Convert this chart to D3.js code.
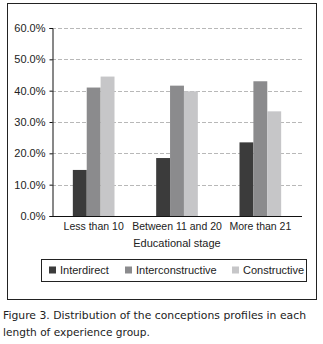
<!DOCTYPE html>
<html>
<head>
<meta charset="utf-8">
<script src="https://cdn.jsdelivr.net/npm/d3@7"></script>
<style>
  body { margin: 0; background: #fff; }
  svg { display: block; }
</style>
</head>
<body>
<svg id="chart" width="323" height="344"></svg>
<script>
// values (percent)
const categories = ["Less than 10", "Between 11 and 20", "More than 21"]
const seriesNames = ["Interdirect", "Interconstructive", "Constructive"]
const interdirect = [14.7, 18.5, 23.5]
const interconstructive = [41.0, 41.6, 43.0]
const constructive = [44.5, 39.8, 33.4]
const yTicks = [0, 10, 20, 30, 40, 50, 60]
const colors = ["#3b3b3b", "#8b8b8d", "#c6c6c8"]

const series = [interdirect, interconstructive, constructive]

const svg = d3.select("#chart")
const font = "'Liberation Sans', Arial, sans-serif"

// outer frame
svg.append("rect")
    .attr("x", 7.5).attr("y", 3.5)
    .attr("width", 309).attr("height", 296)
    .attr("fill", "none").attr("stroke", "#222").attr("stroke-width", 1)

const plot = {left: 52, right: 302, top: 28, bottom: 216}

const y = d3.scaleLinear().domain([0, 60]).range([plot.bottom, plot.top])
const x0 = d3.scaleBand().domain(categories).range([plot.left, plot.right]).paddingInner(0.5).paddingOuter(0.25)
const x1 = d3.scaleBand().domain(seriesNames).range([0, x0.bandwidth()])

// gridlines
svg.append("g")
    .selectAll("line")
    .data(yTicks.filter(d => d > 0))
    .join("line")
    .attr("x1", plot.left).attr("x2", plot.right)
    .attr("y1", d => Math.round(y(d)) + 0.5).attr("y2", d => Math.round(y(d)) + 0.5)
    .attr("stroke", "#b8b8b8").attr("stroke-dasharray", "4,2")

// bars
const groups = svg.append("g")
    .selectAll("g")
    .data(categories)
    .join("g")
    .attr("transform", d => `translate(${x0(d)},0)`)

groups.selectAll("rect")
    .data((c, i) => seriesNames.map((s, j) => ({s: s, v: series[j][i], j: j})))
    .join("rect")
    .attr("x", d => x1(d.s))
    .attr("width", x1.bandwidth())
    .attr("y", d => y(d.v))
    .attr("height", d => plot.bottom - y(d.v))
    .attr("fill", d => colors[d.j])

// y axis
const yAxis = svg.append("g")
    .attr("transform", `translate(${plot.left + 0.5},0)`)
    .call(d3.axisLeft(y).tickValues(yTicks).tickSize(3).tickFormat(d => d.toFixed(1) + "%"))
yAxis.select(".domain").attr("stroke", "#111")
yAxis.selectAll(".tick line").attr("stroke", "#111")
yAxis.selectAll("text").attr("font-family", font).attr("font-size", 11).attr("fill", "#222").attr("dx", "-1")

// x axis
const xAxis = svg.append("g")
    .attr("transform", `translate(0,${plot.bottom + 0.5})`)
    .call(d3.axisBottom(x0).tickSize(0).tickSizeOuter(0))
xAxis.select(".domain").attr("stroke", "#111").attr("d", `M${plot.left},0H${plot.right}`)
xAxis.selectAll("text").attr("font-family", font).attr("font-size", 10.5).attr("fill", "#222").attr("dy", "1.0em")

svg.append("text")
    .attr("x", x0(categories[1]) + x0.bandwidth() / 2)
    .attr("y", 247)
    .attr("text-anchor", "middle")
    .attr("font-family", font).attr("font-size", 11).attr("fill", "#222")
    .text("Educational stage")

// legend
svg.append("rect")
    .attr("x", 41.5).attr("y", 259.5).attr("width", 265).attr("height", 22)
    .attr("fill", "none").attr("stroke", "#222")

const legendX = [49, 125, 232]
const legend = svg.append("g")
    .selectAll("g")
    .data(seriesNames)
    .join("g")
    .attr("transform", (d, i) => `translate(${legendX[i]},270)`)
legend.append("rect")
    .attr("x", 0).attr("y", -3.5).attr("width", 7).attr("height", 7)
    .attr("fill", (d, i) => colors[i])
legend.append("text")
    .attr("x", 11).attr("y", 4)
    .attr("font-family", font).attr("font-size", 11).attr("fill", "#222")
    .text(d => d)

// caption
const caption = svg.append("text")
    .attr("font-family", "'DejaVu Sans', Verdana, sans-serif")
    .attr("font-size", 10.6).attr("fill", "#222")
caption.append("tspan").attr("x", 3).attr("y", 319)
    .attr("textLength", 303).attr("lengthAdjust", "spacingAndGlyphs")
    .text("Figure 3. Distribution of the conceptions profiles in each")
caption.append("tspan").attr("x", 3).attr("y", 336)
    .text("length of experience group.")
</script>
</body>
</html>
